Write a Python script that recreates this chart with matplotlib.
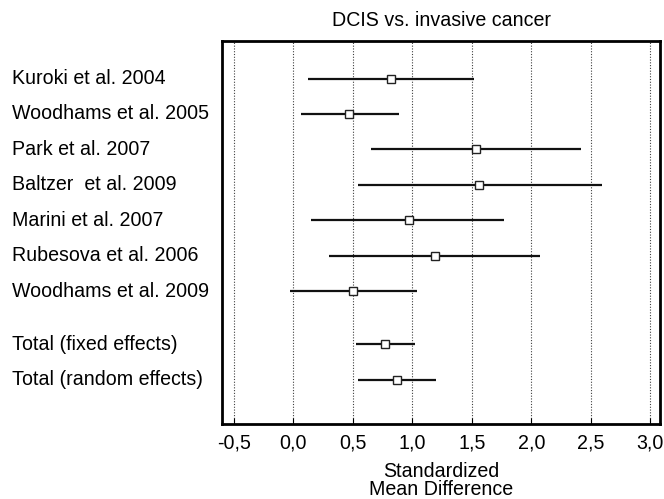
import matplotlib
matplotlib.use("Agg")
import matplotlib.pyplot as plt
from matplotlib.transforms import blended_transform_factory

studies = ["Kuroki et al. 2004", "Woodhams et al. 2005", "Park et al. 2007",
           "Baltzer  et al. 2009", "Marini et al. 2007", "Rubesova et al. 2006",
           "Woodhams et al. 2009", "Total (fixed effects)", "Total (random effects)"]
row_pos = [0, 1, 2, 3, 4, 5, 6, 7.5, 8.5]
smd = [0.82, 0.47, 1.53, 1.56, 0.97, 1.19, 0.50, 0.77, 0.87]
ci_low = [0.12, 0.06, 0.65, 0.54, 0.15, 0.30, -0.03, 0.53, 0.54]
ci_high = [1.52, 0.89, 2.42, 2.59, 1.77, 2.07, 1.04, 1.02, 1.20]
xticks = [-0.5, 0.0, 0.5, 1.0, 1.5, 2.0, 2.5, 3.0]
xtick_labels = ["-0,5", "0,0", "0,5", "1,0", "1,5", "2,0", "2,5", "3,0"]

plt.rcParams['font.family'] = ['Liberation Sans', 'DejaVu Sans']
fs = 14.1

fig = plt.figure(figsize=(6.64, 4.99), dpi=100)
ax = fig.add_axes([222/664, 1-424/499, (660-222)/664, (424-41)/499])

for x in xticks:
    ax.axvline(x, color='0.25', linestyle=(0, (1, 1.5)), linewidth=0.8, zorder=0)

ax.hlines(row_pos, ci_low, ci_high, color='#111111', linewidth=1.6, zorder=2)
ax.plot(smd, row_pos, linestyle='none', marker='s', markersize=5.8,
        markerfacecolor='white', markeredgecolor='#222222', markeredgewidth=1.0, zorder=3)

ax.set_xlim(-0.6, 3.08)
ax.set_ylim(9.75, -1.06)
ax.set_yticks([])
ax.set_xticks(xticks)
ax.set_xticklabels(xtick_labels, fontsize=fs)
ax.tick_params(axis='x', direction='in', length=4, width=0.8, pad=7)
for s in ax.spines.values():
    s.set_linewidth(2.0)

tr = blended_transform_factory(fig.transFigure, ax.transData)
for name, y in zip(studies, row_pos):
    ax.text(12/664, y, name, transform=tr, ha='left', va='center', fontsize=fs)

ax.set_title("DCIS vs. invasive cancer", fontsize=fs, pad=11)
ax.set_xlabel("Standardized\nMean Difference", fontsize=fs, labelpad=7, linespacing=0.88)

fig.savefig("out.png", dpi=100)
